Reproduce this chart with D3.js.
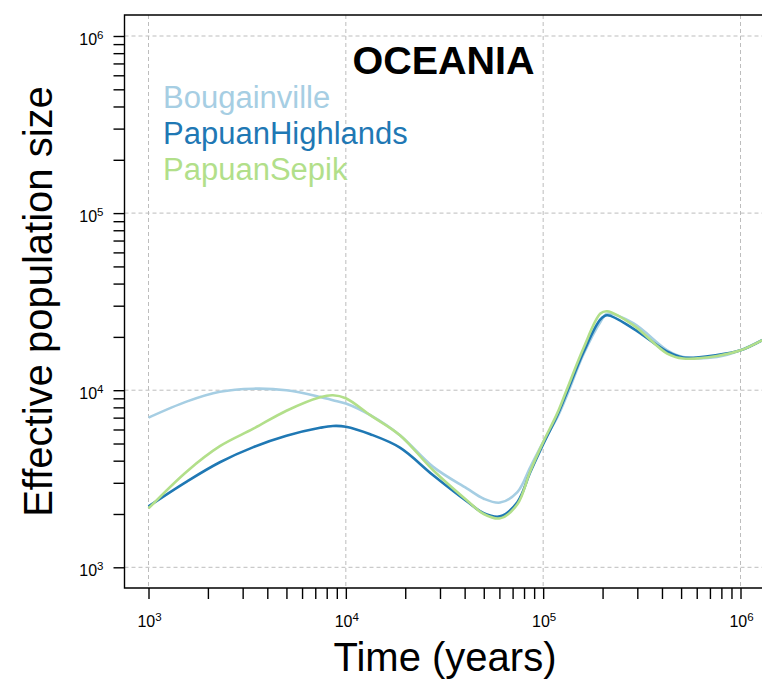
<!DOCTYPE html>
<meta charset="utf-8">
<title>Oceania PSMC</title>
<style>
body { margin: 0; background: #fff; }
svg { display: block; font-family: "Liberation Sans", Arial, Helvetica, sans-serif; }
.grid line { stroke: #bdbdbd; stroke-width: 1; stroke-dasharray: 4,3; }
.tick line { stroke: #000; stroke-width: 1.4; }
</style>
<body>
<script src="https://cdn.jsdelivr.net/npm/d3@7"></script>
<script>

// time in years, shared by all three curves
var times = [1000, 1570, 2300, 3400, 5000, 7400, 8600, 10000, 13300, 18800, 27700, 41000,
  50000, 60500, 74000, 86000, 100000, 118000, 132000, 160000, 195000, 211000, 286000,
  425000, 512000, 760000, 1000000, 1290000];

var bougainville = [7000, 8650, 9800, 10200, 10000, 9170, 8780, 8410, 7230, 5570, 3690, 2790,
  2440, 2320, 2655, 3670, 5090, 7040, 9370, 15970, 24300, 27000, 23900, 16800, 15400,
  15400, 16800, 19200];

var papuanHighlands = [2210, 3060, 3920, 4770, 5530, 6130, 6280, 6220, 5640, 4740, 3310, 2360,
  2020, 1940, 2330, 3440, 4960, 7230, 9740, 16390, 25100, 26500, 22300, 16500, 15300,
  15800, 16800, 19200];

var papuanSepik = [2150, 3490, 4830, 6060, 7660, 9130, 9370, 9010, 7230, 5570, 3530, 2390,
  2000, 1890, 2270, 3490, 5090, 7420, 10130, 17270, 27100, 27900, 23300, 16100, 15100,
  15600, 16800, 19200];

var seriesNames = ["Bougainville", "PapuanHighlands", "PapuanSepik"];
var seriesColors = ["#a6cee3", "#1f78b4", "#b2df8a"];
var seriesValues = [bougainville, papuanHighlands, papuanSepik];

var decades = [1e3, 1e4, 1e5, 1e6];
var exponents = [3, 4, 5, 6];

var width = 762,
    height = 684,
    box = {left: 124.5, top: 15, right: 775, bottom: 588};

var x = d3.scaleLog().domain([1e3, 1e6]).range([148.5, 740.5]);
var y = d3.scaleLog().domain([1e3, 1e6]).range([567.3, 36]);

// minor ticks 1..9 x each decade, up to 10^6
var minor = [];
decades.forEach(function(d, i) {
  if (i == decades.length - 1) { minor.push(d); return; }
  for (var k = 1; k < 10; k++) minor.push(d * k);
});

var svg = d3.select("body").append("svg")
    .attr("width", width)
    .attr("height", height);

svg.append("clipPath").attr("id", "plotclip")
  .append("rect")
    .attr("x", box.left).attr("y", box.top)
    .attr("width", box.right - box.left).attr("height", box.bottom - box.top);

// dashed grid at decades
var grid = svg.append("g").attr("class", "grid");
grid.selectAll(".gx").data(decades).enter().append("line")
    .attr("x1", function(d) { return x(d); }).attr("x2", function(d) { return x(d); })
    .attr("y1", box.top).attr("y2", box.bottom);
grid.selectAll(".gy").data(decades).enter().append("line")
    .attr("y1", function(d) { return y(d); }).attr("y2", function(d) { return y(d); })
    .attr("x1", box.left).attr("x2", box.right);

// curves
var line = d3.line()
    .x(function(d) { return x(d[0]); })
    .y(function(d) { return y(d[1]); })
    .curve(d3.curveCatmullRom.alpha(0.5));

svg.append("g").attr("clip-path", "url(#plotclip)")
  .selectAll("path")
    .data(seriesValues)
  .enter().append("path")
    .attr("d", function(vals) { return line(times.map(function(t, i) { return [t, vals[i]]; })); })
    .attr("fill", "none")
    .attr("stroke", function(d, i) { return seriesColors[i]; })
    .attr("stroke-width", 2.6)
    .attr("stroke-linejoin", "round");

// frame: left, top, bottom
svg.append("path")
    .attr("d", "M" + box.right + "," + box.top + "H" + box.left + "V" + box.bottom + "H" + box.right)
    .attr("fill", "none")
    .attr("stroke", "#000")
    .attr("stroke-width", 1.4);

// y axis ticks
var yAxis = svg.append("g")
    .attr("transform", "translate(" + box.left + ",0)")
    .call(d3.axisLeft(y).tickValues(minor).tickSize(11).tickFormat(""));
yAxis.select(".domain").remove();

// x axis ticks
var xAxis = svg.append("g")
    .attr("transform", "translate(0," + box.bottom + ")")
    .call(d3.axisBottom(x).tickValues(minor).tickSize(11).tickFormat(""));
xAxis.select(".domain").remove();

// tick labels 10^n
function powLabel(sel) {
  sel.append("tspan").text("10");
  sel.append("tspan")
      .attr("dy", -6)
      .attr("font-size", 11.5)
      .text(function(d, i) { return exponents[i]; });
}

svg.append("g").selectAll("text")
    .data(decades)
  .enter().append("text")
    .attr("x", 103.5)
    .attr("y", function(d) { return y(d) + 9; })
    .attr("text-anchor", "end")
    .attr("font-size", 16)
    .call(powLabel);

svg.append("g").selectAll("text")
    .data(decades)
  .enter().append("text")
    .attr("x", function(d) { return x(d) + 1; })
    .attr("y", 627)
    .attr("text-anchor", "middle")
    .attr("font-size", 16)
    .call(powLabel);

// axis titles
svg.append("text")
    .attr("x", 445)
    .attr("y", 671)
    .attr("text-anchor", "middle")
    .attr("font-size", 40)
    .text("Time (years)");

svg.append("text")
    .attr("transform", "translate(52,301.5) rotate(-90)")
    .attr("text-anchor", "middle")
    .attr("font-size", 40)
    .text("Effective population size");

// title
svg.append("text")
    .attr("x", 443.5)
    .attr("y", 73.5)
    .attr("text-anchor", "middle")
    .attr("font-size", 39.5)
    .attr("font-weight", "bold")
    .text("OCEANIA");

// legend
svg.append("g").selectAll("text")
    .data(seriesNames)
  .enter().append("text")
    .attr("x", 163)
    .attr("y", function(d, i) { return 107.5 + i * 36; })
    .attr("font-size", 31)
    .attr("fill", function(d, i) { return seriesColors[i]; })
    .text(function(d) { return d; });

</script>
</body>
